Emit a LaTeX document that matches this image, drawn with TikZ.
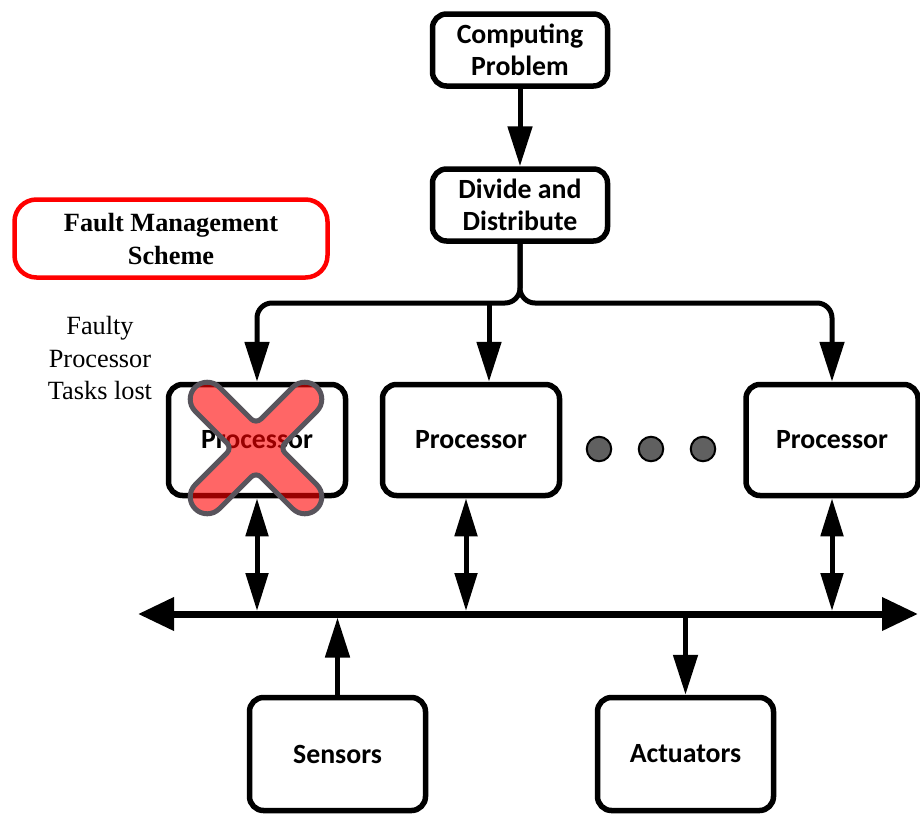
\documentclass[tikz,border=0pt]{standalone}
\usepackage{fontspec}
\setmainfont{Liberation Serif}
\newfontfamily\boxfont{Carlito}
\usetikzlibrary{arrows.meta}
\definecolor{xred}{RGB}{255,0,0}
\definecolor{xgray}{RGB}{88,84,92}
\definecolor{dotgray}{RGB}{96,96,96}
\begin{document}
\begin{tikzpicture}[x=1pt,y=-1pt,
  unit/.style={draw, line width=5.5pt, rounded corners=14pt, fill=white, align=center,
    font=\boxfont\bfseries\fontsize{27.8}{32}\selectfont, inner sep=0pt},
  small/.style={minimum width=175pt, minimum height=72pt},
  proc/.style={minimum width=177pt, minimum height=111pt},
  io/.style={minimum width=176pt, minimum height=113pt},
  flow/.style={line width=5pt, -{Triangle[length=40pt,width=24pt]}},
  twoway/.style={line width=5pt, {Triangle[length=38pt,width=22pt]}-{Triangle[length=38pt,width=22pt]}},
  busline/.style={line width=7pt, {Triangle[length=36pt,width=32pt]}-{Triangle[length=36pt,width=32pt]}},
  dot/.style={circle, draw, line width=2pt, fill=dotgray, minimum size=24.5pt, inner sep=0pt}]
\useasboundingbox (0,0) rectangle (920,814);

% top of the flow
\node[unit, small] (cp) at (520,50) {Computing\\Problem};
\node[unit, small] (dd) at (520,205) {Divide and\\Distribute};

% fault management legend
\node[draw=red, line width=4.5pt, rounded corners=22pt, minimum width=313pt, minimum height=78pt,
  align=center, font=\bfseries\fontsize{26.3}{33}\selectfont] (fms) at (171,238.5) {Fault Management\\Scheme};
\node[align=center, font=\fontsize{26.3}{32.5}\selectfont] (lost) at (100,358) {Faulty\\Processor\\Tasks lost};

% processors
\node[unit, proc] (p1) at (257,440) {Processor};
\node[unit, proc] (p2) at (471,440) {Processor};
\node[unit, proc, minimum width=172pt] (p3) at (832,440) {Processor};
\node[dot] (d1) at (599,449) {};
\node[dot] (d2) at (651,449) {};
\node[dot] (d3) at (703,449) {};

% sensors and actuators
\node[unit, io] (sen) at (337.5,754) {Sensors};
\node[unit, io] (act) at (685.5,754) {Actuators};

% helper points
\coordinate (split) at (520,303);
\coordinate (b2) at (489,303);
\coordinate (busL) at (138,614);
\coordinate (busR) at (918,614);
\coordinate (busTop) at (0,611);
\coordinate (busBot) at (0,617.5);
\coordinate (q2) at (466,0);

% distribution arrows
\draw[flow] (cp) -- (dd);
\draw[flow, rounded corners=15pt] (dd.south) -- (split) -- (split -| p1) -- (p1.north);
\draw[flow, rounded corners=15pt] (dd.south) -- (split) -- (split -| p3) -- (p3.north);
\draw[flow] (b2) -- (b2 |- p2.north);

% shared bus
\draw[busline] (busL) -- (busR);
\draw[twoway] (p1.south) -- (p1.south |- busTop);
\draw[twoway] (q2 |- p2.south) -- (q2 |- busTop);
\draw[twoway] (p3.south) -- (p3.south |- busTop);
\draw[flow] (sen.north) -- (sen.north |- busBot);
\draw[flow] (act.north |- busL) -- (act.north);

% cross over the faulty processor
\begin{scope}[shift={(256,448)}, rotate=45]
  \filldraw[fill=xred, fill opacity=0.6, draw=xgray, line width=5pt]
    (24,17) -- (69,17) arc[start angle=90, end angle=-90, radius=17]
    -- (24,-17) arc[start angle=90, end angle=180, radius=7]
    -- (17,-69) arc[start angle=0, end angle=-180, radius=17]
    -- (-17,-24) arc[start angle=0, end angle=90, radius=7]
    -- (-69,-17) arc[start angle=270, end angle=90, radius=17]
    -- (-24,17) arc[start angle=-90, end angle=0, radius=7]
    -- (-17,69) arc[start angle=180, end angle=0, radius=17]
    -- (17,24) arc[start angle=180, end angle=270, radius=7] -- cycle;
\end{scope}
\end{tikzpicture}
\end{document}
